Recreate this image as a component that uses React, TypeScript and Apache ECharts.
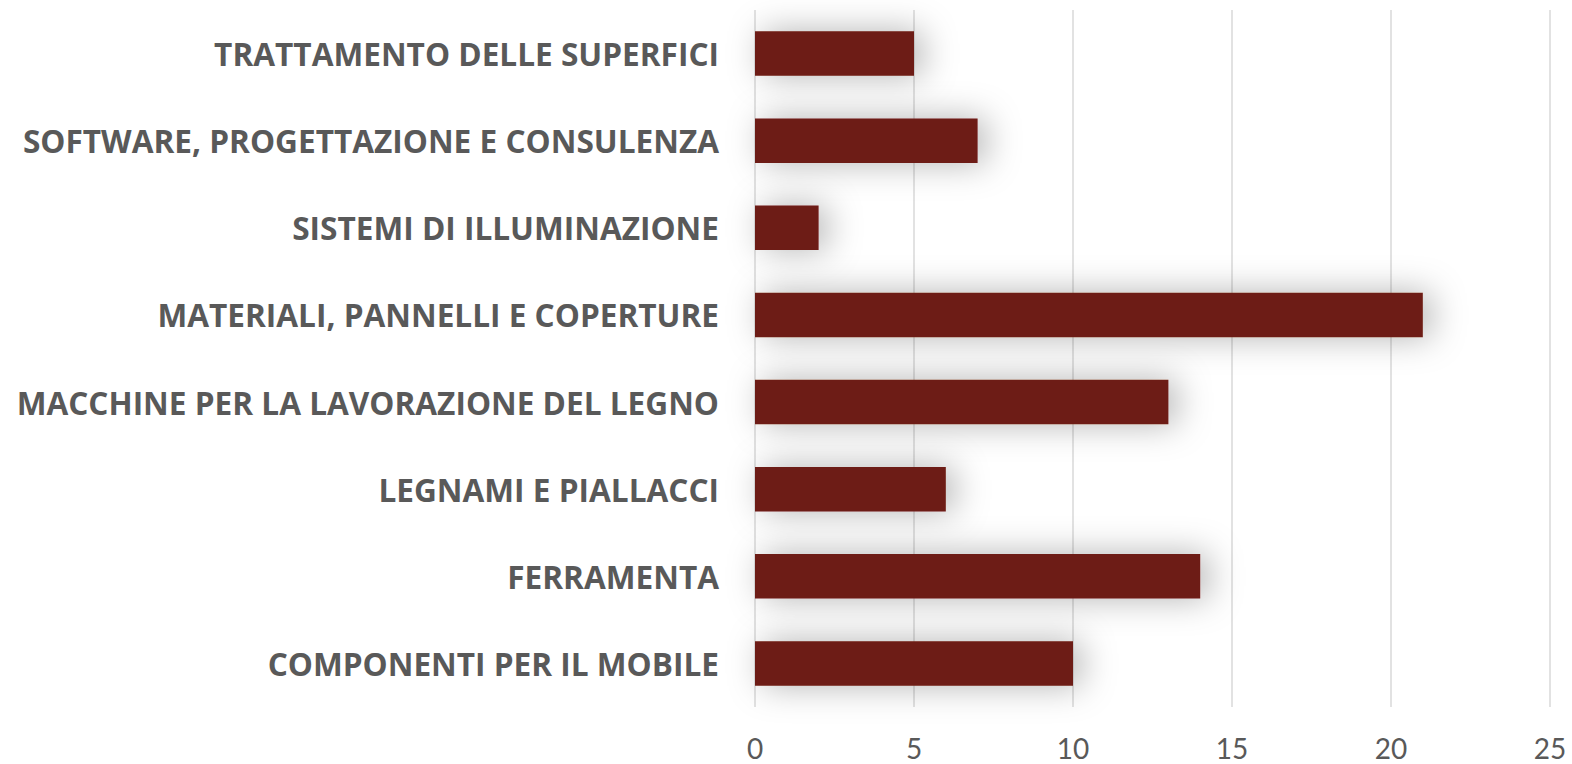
import React, { useEffect, useRef } from "react";
import * as echarts from "echarts";

const categories = [
  "COMPONENTI PER IL MOBILE",
  "FERRAMENTA",
  "LEGNAMI E PIALLACCI",
  "MACCHINE PER LA LAVORAZIONE DEL LEGNO",
  "MATERIALI, PANNELLI E COPERTURE",
  "SISTEMI DI ILLUMINAZIONE",
  "SOFTWARE, PROGETTAZIONE E CONSULENZA",
  "TRATTAMENTO DELLE SUPERFICI",
];
const values = [10, 14, 6, 13, 21, 2, 7, 5];
const xTicks = [0, 5, 10, 15, 20, 25];

export default function App() {
  const ref = useRef<HTMLDivElement>(null);
  useEffect(() => {
    if (!ref.current) return;
    const chart = echarts.init(ref.current, null, { renderer: "svg" });
    chart.setOption({
      animation: false,
      backgroundColor: "#ffffff",
      grid: { left: 755, right: 22, top: 10, bottom: 57 },
      xAxis: {
        type: "value",
        min: xTicks[0],
        max: xTicks[xTicks.length - 1],
        interval: 5,
        axisLine: { show: false },
        axisTick: { show: false },
        splitLine: { show: true, lineStyle: { color: "#d9d9d9", width: 1.5 } },
        axisLabel: {
          color: "#595959",
          fontSize: 28,
          lineHeight: 28,
          fontFamily: "Lato",
          margin: 27,
        },
      },
      yAxis: {
        type: "category",
        data: categories,
        axisLine: { show: false },
        axisTick: { show: false },
        axisLabel: {
          color: "#595959",
          fontSize: 31.6,
          fontWeight: "bold",
          fontFamily: "Open Sans",
          margin: 36,
        },
      },
      series: [
        {
          type: "bar",
          data: values,
          barCategoryGap: "49%",
          itemStyle: {
            color: "#6d1a12",
            shadowColor: "rgba(0,0,0,0.3)",
            shadowBlur: 34,
            shadowOffsetX: 8,
            shadowOffsetY: 0,
          },
        },
      ],
    });
    return () => chart.dispose();
  }, []);
  return (
    <div
      ref={ref}
      style={{ position: "absolute", left: 0, top: 0, width: 1572, height: 764 }}
    />
  );
}
